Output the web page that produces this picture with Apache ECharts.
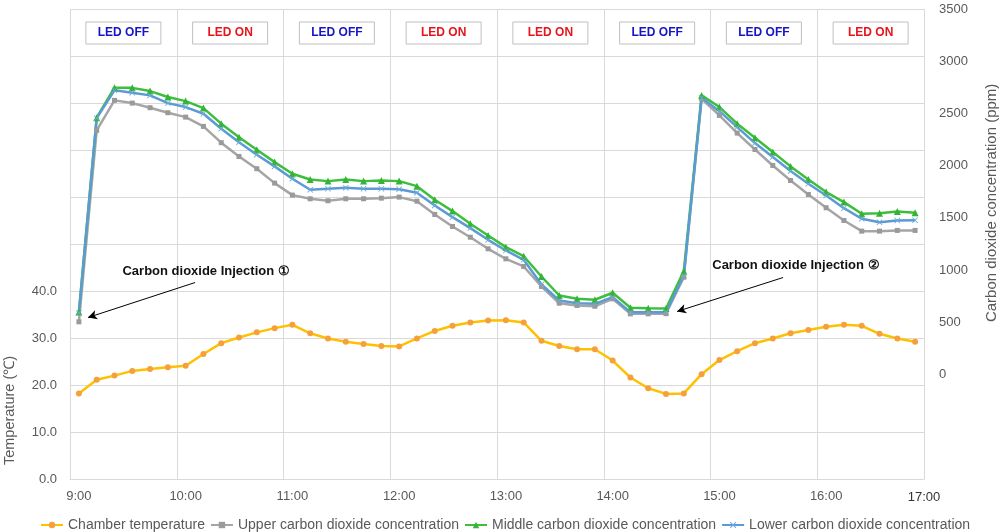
<!DOCTYPE html>
<html><head><meta charset="utf-8">
<script src="https://cdn.jsdelivr.net/npm/echarts@6/dist/echarts.min.js"></script>
<style>html,body{margin:0;padding:0;background:#fff}#c{width:999px;height:532px}</style>
</head><body><div id="c"></div>
<script>
const times = ['9:00','9:10','9:20','9:30','9:40','9:50','10:00','10:10','10:20','10:30','10:40','10:50',
  '11:00','11:10','11:20','11:30','11:40','11:50','12:00','12:10','12:20','12:30','12:40','12:50',
  '13:00','13:10','13:20','13:30','13:40','13:50','14:00','14:10','14:20','14:30','14:40','14:50',
  '15:00','15:10','15:20','15:30','15:40','15:50','16:00','16:10','16:20','16:30','16:40','16:50'];
const endLabel = '17:00';
const chamberTemp = [18.2,21.1,22.0,23.0,23.4,23.8,24.1,26.6,28.9,30.1,31.2,32.1,32.8,31.0,29.9,29.2,
  28.7,28.3,28.2,29.9,31.5,32.6,33.3,33.7,33.8,33.3,29.4,28.3,27.6,27.6,
  25.2,21.6,19.3,18.1,18.2,22.3,25.3,27.2,28.9,29.9,31.0,31.7,32.4,32.8,32.6,30.9,29.9,29.2];
const upperCO2 = [505,2338,2625,2599,2555,2507,2465,2376,2220,2088,1971,1833,1718,1683,1664,1683,
  1683,1689,1699,1660,1533,1418,1315,1204,1108,1035,843,683,661,654,
  725,581,581,583,932,2641,2481,2312,2155,2002,1858,1724,1597,1475,1373,1373,1380,1380];
const middleCO2 = [600,2459,2747,2745,2714,2657,2618,2551,2402,2273,2153,2034,1923,1868,1852,1868,
  1852,1859,1852,1804,1674,1565,1444,1332,1220,1133,939,757,725,716,
  783,639,635,632,990,2673,2561,2402,2268,2130,1993,1868,1747,1651,1540,1545,1562,1549];
const lowerCO2 = [590,2455,2721,2699,2673,2599,2561,2497,2354,2225,2105,1993,1875,1769,1779,1789,
  1779,1779,1775,1741,1619,1507,1402,1290,1188,1099,862,709,683,677,
  741,597,597,597,948,2651,2522,2369,2216,2082,1948,1827,1715,1593,1492,1459,1475,1478];
const ledStates = ['LED OFF','LED ON','LED OFF','LED ON','LED ON','LED OFF','LED OFF','LED ON'];
const tempTicks = [0,10,20,30,40];
const co2Ticks = [0,500,1000,1500,2000,2500,3000,3500];
// annotations: [text, text x (10-min steps), text ppm, arrow from x, from ppm, to x, to ppm]
const injections = [
  ['Carbon dioxide Injection \u2460', 7.65, 990, 7.03, 881, 1.01, 546],
  ['Carbon dioxide Injection \u2461', 40.8, 1044, 40.08, 929, 34.12, 604]
];

const FONT = 'Liberation Sans, Arial, sans-serif';
const grid = '#D9D9D9', txt = '#595959';
const xSym = 'path://M1,0 L5,4 L9,0 L10,1 L6,5 L10,9 L9,10 L5,6 L1,10 L0,9 L4,5 L0,1 Z';

const chart = echarts.init(document.getElementById('c'), null, {renderer:'canvas'});
const option = {
  animation:false,
  textStyle:{fontFamily:FONT},
  grid:{left:70,right:75,top:9,bottom:53,containLabel:false},
  legend:{left:40,top:518,padding:0,itemWidth:22,itemHeight:8,itemGap:5,
    textStyle:{fontSize:14,color:txt,fontFamily:FONT},
    data:['Chamber temperature','Upper carbon dioxide concentration','Middle carbon dioxide concentration','Lower carbon dioxide concentration']},
  xAxis:[{type:'category',data:times,boundaryGap:true,
      axisLine:{show:true,lineStyle:{color:grid}},axisTick:{show:false},
      axisLabel:{interval:5,color:txt,fontSize:13,margin:11},
      splitLine:{show:true,interval:5,lineStyle:{color:grid,width:1}}},
    {type:'value',min:0,max:48,show:false}],
  yAxis:[{type:'value',min:0,max:100,interval:10,
      axisLine:{show:false},axisTick:{show:false},
      axisLabel:{color:txt,fontSize:13,margin:13,formatter:v=>tempTicks.indexOf(v)>=0?v.toFixed(1):''},
      splitLine:{show:true,lineStyle:{color:grid,width:1}}},
    {type:'value',min:-1000,max:3500,interval:500,position:'right',
      axisLine:{show:false},axisTick:{show:false},
      axisLabel:{color:txt,fontSize:13,margin:15,formatter:v=>co2Ticks.indexOf(v)>=0?String(v):''},
      splitLine:{show:false}}],
  series:[
    {name:'Chamber temperature',type:'line',data:chamberTemp,xAxisIndex:0,yAxisIndex:0,
      symbol:'circle',symbolSize:6,lineStyle:{color:'#FFC000',width:2.5},itemStyle:{color:'#F5A03C'}},
    {name:'Upper carbon dioxide concentration',type:'line',data:upperCO2,xAxisIndex:0,yAxisIndex:1,
      symbol:'rect',symbolSize:5,lineStyle:{color:'#A5A5A5',width:2.5},itemStyle:{color:'#9A9A9A'}},
    {name:'Middle carbon dioxide concentration',type:'line',data:middleCO2,xAxisIndex:0,yAxisIndex:1,
      symbol:'triangle',symbolSize:7,lineStyle:{color:'#3DBE3D',width:2.5},itemStyle:{color:'#33B533'}},
    {name:'Lower carbon dioxide concentration',type:'line',data:lowerCO2,xAxisIndex:0,yAxisIndex:1,
      symbol:xSym,symbolSize:6,lineStyle:{color:'#5B9BD5',width:2.5},itemStyle:{color:'#6FA8DC'}},
    {name:'annot',type:'line',data:[],xAxisIndex:1,yAxisIndex:1,silent:true,
      markLine:{silent:true,symbol:['none','arrow'],symbolSize:[7,9],label:{show:false},
        lineStyle:{color:'#000',width:1,type:'solid'},
        data:injections.map(a=>[{coord:[a[3],a[4]]},{coord:[a[5],a[6]]}])}}
  ]
};
chart.setOption(option);

function px(cat,val,yi){
  const x = chart.convertToPixel({xAxisIndex:1}, cat);
  const y = chart.convertToPixel({yAxisIndex:yi}, val);
  return [x,y];
}
const g = [];
ledStates.forEach((s,h)=>{
  const c = px(h*6+3, 95, 0);
  g.push({type:'rect',shape:{x:c[0]-37.5,y:c[1]-10.5,width:75,height:22},
    style:{fill:'#fff',stroke:'#BFBFBF',lineWidth:1}});
  g.push({type:'text',x:c[0],y:c[1]+0.5,style:{text:s,fill:s==='LED ON'?'#E8141B':'#1414C8',
    font:'bold 12px '+FONT,textAlign:'center',textVerticalAlign:'middle'}});
});
injections.forEach(a=>{
  const c = px(a[1],a[2],1);
  g.push({type:'text',x:c[0],y:c[1],style:{text:a[0],fill:'#111',font:'bold 13px '+FONT,
    textAlign:'center',textVerticalAlign:'middle'}});
});
const e = px(48,-1000,1);
g.push({type:'text',x:e[0],y:e[1]+18,style:{text:endLabel,fill:'#333',font:'13px '+FONT,
  textAlign:'center',textVerticalAlign:'middle'}});
g.push({type:'text',x:10,y:px(0,15,0)[1]+2,rotation:Math.PI/2,style:{text:'Temperature (\u2103)',fill:txt,
  font:'14.5px '+FONT,textAlign:'center',textVerticalAlign:'middle'}});
g.push({type:'text',x:992,y:px(0,1500,1)[1]-15,rotation:Math.PI/2,style:{text:'Carbon dioxide concentration (ppm)',fill:txt,
  font:'15px '+FONT,textAlign:'center',textVerticalAlign:'middle'}});
chart.setOption({graphic:g});
</script></body></html>
